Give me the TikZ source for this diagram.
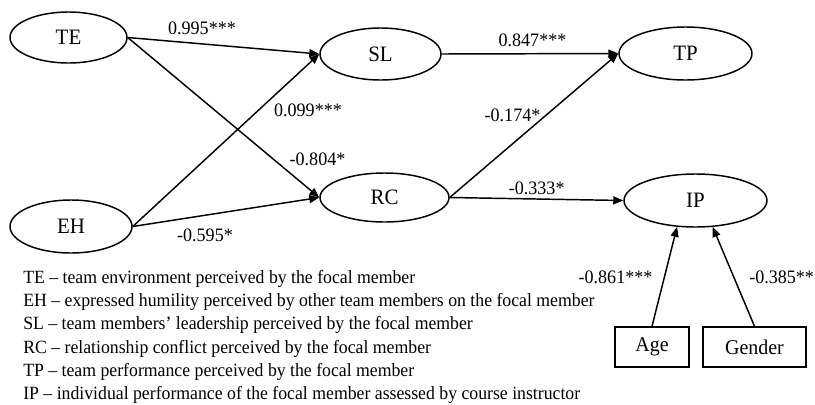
\documentclass[tikz,border=0pt]{standalone}
\usepackage{fontspec}
\setmainfont[FakeStretch=0.95]{Liberation Serif}
\usetikzlibrary{shapes.geometric,arrows.meta}
\begin{document}
\begin{tikzpicture}[x=0.75pt,y=-0.75pt,
  var/.style={ellipse, draw, line width=1.1pt, inner sep=0pt, font=\fontsize{16.5}{18}\selectfont},
  ctrl/.style={rectangle, draw, line width=1.1pt, inner sep=0pt, minimum height=30pt, font=\fontsize{15.75}{18}\selectfont},
  coef/.style={inner sep=0pt, font=\fontsize{14.25}{16}\selectfont},
  leg/.style={inner sep=0pt, anchor=base west, font=\fontsize{14}{16}\selectfont},
  link/.style={draw, line width=1.1pt, -{Triangle[length=7.5pt,width=6pt]}}]
\fill[white] (0,0) rectangle (815,404);
\useasboundingbox (0,0) rectangle (815,404);

% variables
\node[var, minimum width=87.75pt, minimum height=38.25pt] (TE) at (68.5,37.5) {TE};
\node[var, minimum width=90.75pt, minimum height=39pt] (SL) at (380.5,54) {SL};
\node[var, minimum width=91.5pt, minimum height=39.75pt] (EH) at (71,226.5) {EH};
\node[var, minimum width=96.75pt, minimum height=36.75pt] (RC) at (384.5,197.5) {RC};
\node[var, minimum width=99.75pt, minimum height=39.75pt] (TP) at (685.5,53.5) {TP};
\node[var, minimum width=107.25pt, minimum height=39.75pt] (IP) at (695.5,200.5) {IP};
\node[ctrl, minimum width=55.5pt] (Age) at (652,347) {Age};
\node[ctrl, minimum width=77.25pt] (Gender) at (754.5,347) {Gender};

% paths
\draw[link] (TE.east) -- (SL.west);
\draw[link] (TE.east) -- (RC.west);
\draw[link] (EH.east) -- (SL.west);
\draw[link] (EH.east) -- (RC.west);
\draw[link] (SL.east) -- (TP.west);
\draw[link] (RC.east) -- (TP.west);
\draw[link] (RC.east) -- (IP.west);
\draw[link] (Age.north) -- (IP.-125);
\draw[link] (Gender.north) -- (IP.-57.5);

% coefficients
\node[coef] (c1) at (202,28) {0.995***};
\node[coef] (c2) at (317.5,159) {-0.804*};
\node[coef] (c3) at (308,110) {0.099***};
\node[coef] (c4) at (205,235) {-0.595*};
\node[coef] (c5) at (532.5,40) {0.847***};
\node[coef] (c6) at (512.5,115) {-0.174*};
\node[coef] (c7) at (536.7,188) {-0.333*};
\node[coef] (c8) at (615.5,277) {-0.861***};
\node[coef, anchor=west] (c9) at (749,277) {-0.385**};

% legend
\node[leg] (l1) at (23,283.3) {TE – team environment perceived by the focal member};
\node[leg] (l2) at (23,306.6) {EH – expressed humility perceived by other team members on the focal member};
\node[leg] (l3) at (23,329.9) {SL – team members’ leadership perceived by the focal member};
\node[leg] (l4) at (23,353.2) {RC – relationship conflict perceived by the focal member};
\node[leg] (l5) at (23,376.5) {TP – team performance perceived by the focal member};
\node[leg] (l6) at (23,399.8) {IP – individual performance of the focal member assessed by course instructor};
\end{tikzpicture}
\end{document}
